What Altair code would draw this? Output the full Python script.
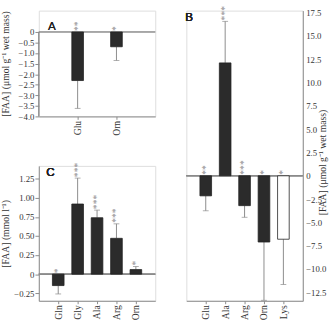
import altair as alt
import pandas as pd

# ---- data ----
cats_A = ["Glu", "Orn"]
vals_A = [-2.3, -0.7]
errs_A = [-3.62, -1.35]
stars_A = ["**", "*"]

cats_B = ["Glu", "Ala", "Arg", "Orn", "Lys"]
vals_B = [-2.15, 12.1, -3.2, -7.1, -6.8]
errs_B = [-3.75, 16.55, -4.45, -13.35, -11.65]
stars_B = ["**", "***", "***", "*", "*"]
fill_B = ["#2b2b2b", "#2b2b2b", "#2b2b2b", "#2b2b2b", "white"]

cats_C = ["Gln", "Gly", "Ala", "Arg", "Orn"]
vals_C = [-0.15, 0.92, 0.74, 0.47, 0.06]
errs_C = [-0.26, 1.26, 0.84, 0.66, 0.10]
stars_C = ["*", "***", "***", "***", "*"]

ticks_A = [0, -0.5, -1.0, -1.5, -2.0, -2.5, -3.0, -3.5, -4.0]
ticks_B = [17.5, 15.0, 12.5, 10.0, 7.5, 5.0, 2.5, 0, -2.5, -5.0, -7.5, -10.0, -12.5]
ticks_C = [1.25, 1.0, 0.75, 0.5, 0.25, 0, -0.25]

GRAY = "#8a8a8a"
DARK = "#2b2b2b"
SERIF = "Liberation Serif"


def frame(cats, vals, errs, stars, fills=None):
    df = pd.DataFrame({"cat": cats, "v": vals, "err": errs, "star": stars})
    df["sbase"] = [0 if v < 0 else e for v, e in zip(vals, errs)]
    df["fill"] = fills if fills else [DARK] * len(cats)
    return df


def panel(df, cats, domain, height, yaxis, letter, lx, ly, fmt, orient="left",
          title="", own_domain_line=None, title_y=None):
    x = alt.X("cat:N", sort=cats, scale=alt.Scale(type="point", padding=1),
              axis=alt.Axis(title=None, labelAngle=270, labelFont=SERIF,
                            labelFontSize=10, labelColor="#333", tickSize=3,
                            labelPadding=1, domainColor=GRAY, tickColor=GRAY))
    yscale = alt.Scale(domain=domain, nice=False, zero=False)
    axis_kwargs = dict(values=yaxis, title=title, orient=orient,
                       labelFont=SERIF, labelFontSize=9, labelColor="#333",
                       titleFont=SERIF, titleFontSize=10, titleFontWeight="normal",
                       titleColor="#333", domainColor=GRAY, tickColor=GRAY,
                       labelOverlap=False, labelFlush=False,
                       labelExpr=f"datum.value == 0 ? '0' : format(datum.value, '{fmt}')",
                       grid=False)
    if orient == "right":
        axis_kwargs.update(titleAngle=270, tickSize=0, labelPadding=3, titlePadding=2)
    else:
        axis_kwargs.update(tickSize=4, labelPadding=1, titleX=-29)
    if title_y is not None:
        axis_kwargs["titleY"] = title_y
    if own_domain_line is not None:
        axis_kwargs["domain"] = False
    ax = alt.Axis(**axis_kwargs)

    def Y(field):
        return alt.Y(field, type="quantitative", scale=yscale, axis=ax)

    base = alt.Chart(df)
    bars = base.mark_bar(size=12, stroke="#222", strokeWidth=0.8).encode(
        x=x, y=Y("v"), y2=alt.datum(0), fill=alt.Fill("fill:N", scale=None))
    err = base.mark_rule(color=GRAY, strokeWidth=1).encode(
        x=x, y=Y("v"), y2="err:Q")
    cap = base.mark_tick(color=GRAY, size=6, thickness=1).encode(
        x=x, y=Y("err"))
    zero = alt.Chart(df).mark_rule(color=GRAY, strokeWidth=1).encode(
        y=alt.datum(0, scale=yscale, axis=ax))
    star = base.mark_text(angle=270, align="left", baseline="middle", dx=1,
                          font=SERIF, fontSize=10, color="#888").encode(
        x=x, y=Y("sbase"), text="star:N")
    lab = alt.Chart(df).mark_text(text=letter, font="Liberation Sans", fontSize=12,
                                  fontWeight="normal", color="#222").encode(
        x=alt.value(lx), y=alt.value(ly))
    # invisible spacer fixing the top extent of every panel
    spacer = alt.Chart(df).mark_rule(strokeWidth=1, strokeOpacity=0, color="white").encode(
        x=alt.value(2), x2=alt.value(3), y=alt.value(-4.5))
    layers = [spacer, zero, err, cap, bars, star, lab]
    if own_domain_line is not None:
        dl = alt.Chart(df).mark_rule(color=GRAY, strokeWidth=1).encode(
            x=alt.value(0), y=alt.datum(own_domain_line[0], scale=yscale, axis=ax),
            y2=alt.datum(own_domain_line[1]))
        layers.insert(0, dl)
    return alt.layer(*layers).properties(width=120, height=height)


dfA = frame(cats_A, vals_A, errs_A, stars_A)
dfB = frame(cats_B, vals_B, errs_B, stars_B, fill_B)
dfC = frame(cats_C, vals_C, errs_C, stars_C)

A = panel(dfA, cats_A, [-4.0, 1.0115], 109, ticks_A, "A", 13.5, 15.5, ".1f",
          title="[FAA] (μmol g⁻¹ wet mass)", own_domain_line=(0, -4.0))
C = panel(dfC, cats_C, [-0.35, 1.42], 139, ticks_C, "C", 12, 6.5, ".2f",
          title="[FAA] (mmol l⁻¹)")
B = panel(dfB, cats_B, [-13.4, 17.7], 299, ticks_B, "B", 3, 7, ".1f",
          orient="right", title="[FAA] (μmol g⁻¹ wet mass)", title_y=156)

left = alt.vconcat(A, C, spacing=51, bounds="flush")
chart = alt.hconcat(left, B, spacing=29).properties(
    padding={"left": 0, "top": 0, "right": 0, "bottom": 0}
).configure_view(stroke=None).configure(background="white")

chart.save("out.html", embed_options={"renderer": "svg", "actions": False})
